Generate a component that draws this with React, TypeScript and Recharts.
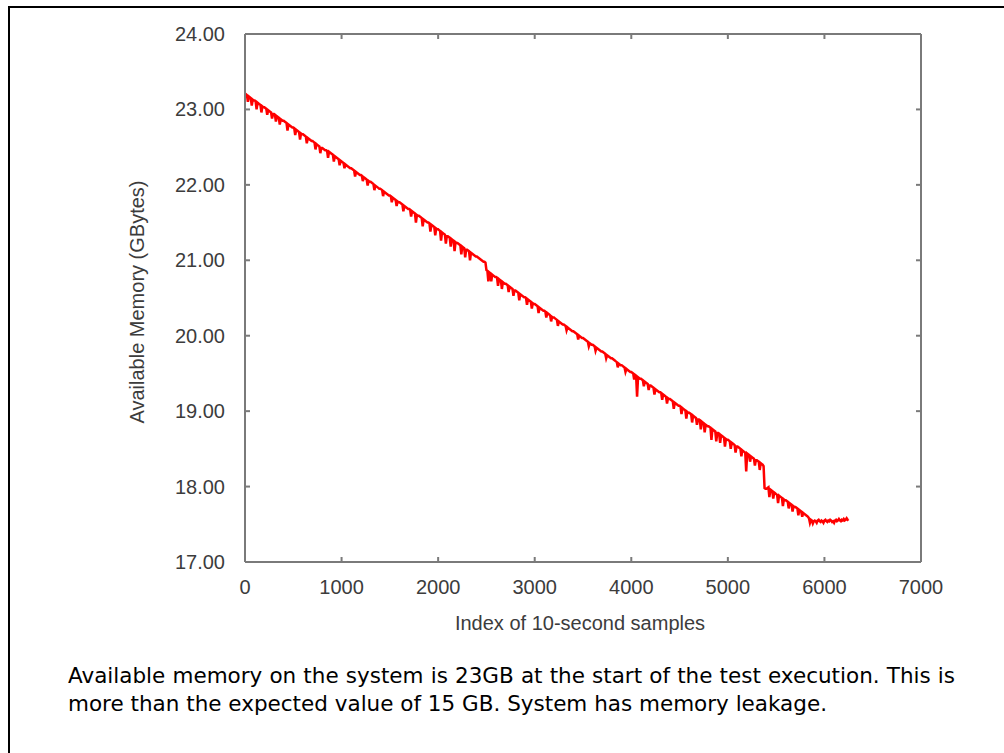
import { LineChart, Line, XAxis, YAxis } from "recharts";

// available memory (GB), one reading per 10 samples
// each row below covers 100 samples
const SAMPLE_STEP = 10;
const memoryGB = [
  23.21, 23.2, 23.19, 23.1, 23.17, 23.16, 23.15, 23.05, 23.13, 23.12, // 0
  23.12, 23.11, 23.0, 23.09, 23.08, 23.07, 23.06, 22.96, 23.04, 23.03,
  23.03, 23.02, 23.01, 22.93, 22.99, 22.98, 22.97, 22.96, 22.88, 22.94,
  22.94, 22.93, 22.84, 22.91, 22.9, 22.89, 22.8, 22.87, 22.86, 22.85,
  22.85, 22.84, 22.83, 22.82, 22.72, 22.8, 22.79, 22.78, 22.77, 22.76,
  22.76, 22.75, 22.66, 22.73, 22.72, 22.71, 22.7, 22.6, 22.68, 22.67, // 500
  22.67, 22.66, 22.65, 22.64, 22.55, 22.62, 22.61, 22.6, 22.59, 22.58,
  22.58, 22.57, 22.56, 22.47, 22.54, 22.53, 22.52, 22.51, 22.42, 22.49,
  22.49, 22.48, 22.47, 22.46, 22.46, 22.45, 22.36, 22.44, 22.43, 22.42,
  22.41, 22.4, 22.31, 22.38, 22.37, 22.36, 22.35, 22.34, 22.26, 22.32,
  22.31, 22.3, 22.29, 22.22, 22.27, 22.26, 22.25, 22.24, 22.23, 22.22, // 1000
  22.22, 22.21, 22.2, 22.19, 22.11, 22.17, 22.16, 22.15, 22.14, 22.13,
  22.13, 22.12, 22.05, 22.1, 22.09, 22.08, 22.07, 21.99, 22.05, 22.04,
  22.04, 22.03, 22.02, 22.01, 21.93, 21.99, 21.98, 21.97, 21.96, 21.95,
  21.95, 21.94, 21.93, 21.85, 21.91, 21.9, 21.89, 21.88, 21.87, 21.86,
  21.86, 21.85, 21.77, 21.83, 21.82, 21.81, 21.8, 21.72, 21.78, 21.77, // 1500
  21.77, 21.76, 21.75, 21.74, 21.65, 21.72, 21.71, 21.7, 21.69, 21.68,
  21.68, 21.67, 21.58, 21.65, 21.64, 21.63, 21.62, 21.5, 21.6, 21.59,
  21.59, 21.58, 21.57, 21.56, 21.45, 21.54, 21.53, 21.52, 21.51, 21.5,
  21.5, 21.49, 21.38, 21.47, 21.46, 21.45, 21.44, 21.33, 21.42, 21.41,
  21.41, 21.4, 21.39, 21.26, 21.37, 21.36, 21.35, 21.34, 21.22, 21.32, // 2000
  21.32, 21.31, 21.3, 21.18, 21.28, 21.27, 21.26, 21.12, 21.24, 21.23,
  21.23, 21.22, 21.21, 21.2, 21.08, 21.18, 21.17, 21.16, 21.04, 21.14,
  21.14, 21.13, 21.12, 21.0, 21.1, 21.09, 21.08, 21.07, 21.06, 21.05,
  21.05, 21.04, 21.03, 21.02, 21.01, 21.0, 20.99, 20.98, 20.98, 20.97,
  20.87, 20.86, 20.72, 20.84, 20.83, 20.72, 20.81, 20.8, 20.79, 20.78, // 2500
  20.78, 20.77, 20.66, 20.75, 20.74, 20.73, 20.62, 20.71, 20.7, 20.69,
  20.69, 20.68, 20.67, 20.58, 20.65, 20.64, 20.63, 20.62, 20.53, 20.6,
  20.6, 20.59, 20.58, 20.57, 20.47, 20.55, 20.54, 20.53, 20.52, 20.51,
  20.51, 20.5, 20.41, 20.48, 20.47, 20.46, 20.45, 20.36, 20.43, 20.42,
  20.42, 20.41, 20.4, 20.39, 20.3, 20.37, 20.36, 20.35, 20.34, 20.33, // 3000
  20.33, 20.32, 20.24, 20.3, 20.29, 20.28, 20.27, 20.19, 20.25, 20.24,
  20.24, 20.23, 20.22, 20.21, 20.13, 20.19, 20.18, 20.17, 20.16, 20.15,
  20.15, 20.14, 20.13, 20.07, 20.11, 20.1, 20.09, 20.08, 20.07, 20.06,
  20.06, 20.05, 20.04, 20.03, 20.02, 19.95, 20.0, 19.99, 19.98, 19.97,
  19.97, 19.96, 19.95, 19.94, 19.93, 19.92, 19.86, 19.9, 19.89, 19.88, // 3500
  19.88, 19.87, 19.86, 19.8, 19.84, 19.83, 19.82, 19.81, 19.8, 19.79,
  19.79, 19.78, 19.77, 19.76, 19.7, 19.74, 19.73, 19.72, 19.71, 19.7,
  19.7, 19.69, 19.68, 19.67, 19.66, 19.65, 19.58, 19.63, 19.62, 19.61,
  19.61, 19.6, 19.59, 19.58, 19.52, 19.56, 19.55, 19.54, 19.53, 19.52,
  19.52, 19.51, 19.5, 19.42, 19.48, 19.47, 19.19, 19.45, 19.44, 19.43, // 4000
  19.43, 19.42, 19.41, 19.33, 19.39, 19.38, 19.37, 19.36, 19.28, 19.34,
  19.34, 19.33, 19.32, 19.31, 19.22, 19.29, 19.28, 19.27, 19.26, 19.25,
  19.25, 19.24, 19.15, 19.22, 19.21, 19.2, 19.19, 19.1, 19.17, 19.16,
  19.16, 19.15, 19.14, 19.13, 19.03, 19.11, 19.1, 19.09, 19.08, 19.07,
  19.07, 19.06, 18.96, 19.04, 19.03, 19.02, 19.01, 18.9, 18.99, 18.98, // 4500
  18.98, 18.97, 18.96, 18.85, 18.94, 18.93, 18.92, 18.91, 18.82, 18.89,
  18.89, 18.88, 18.76, 18.86, 18.85, 18.84, 18.72, 18.82, 18.81, 18.8,
  18.8, 18.79, 18.78, 18.62, 18.76, 18.75, 18.74, 18.73, 18.6, 18.71,
  18.71, 18.7, 18.58, 18.68, 18.67, 18.66, 18.65, 18.53, 18.63, 18.62,
  18.62, 18.61, 18.6, 18.5, 18.58, 18.57, 18.56, 18.55, 18.45, 18.53, // 5000
  18.53, 18.52, 18.51, 18.5, 18.4, 18.48, 18.47, 18.46, 18.45, 18.2,
  18.44, 18.43, 18.42, 18.33, 18.4, 18.39, 18.38, 18.37, 18.28, 18.35,
  18.35, 18.34, 18.33, 18.22, 18.31, 18.3, 18.29, 18.27, 17.98, 17.97,
  17.97, 17.98, 17.99, 17.86, 17.96, 17.95, 17.94, 17.84, 17.92, 17.91,
  17.9, 17.89, 17.78, 17.88, 17.87, 17.86, 17.85, 17.74, 17.83, 17.82, // 5500
  17.82, 17.81, 17.8, 17.71, 17.78, 17.77, 17.76, 17.67, 17.74, 17.73,
  17.73, 17.72, 17.71, 17.62, 17.69, 17.68, 17.67, 17.6, 17.65, 17.64,
  17.63, 17.62, 17.61, 17.6, 17.58, 17.52, 17.56, 17.55, 17.51, 17.54,
  17.55, 17.54, 17.52, 17.55, 17.56, 17.54, 17.53, 17.55, 17.54, 17.52,
  17.55, 17.56, 17.54, 17.53, 17.55, 17.54, 17.56, 17.55, 17.53, 17.54, // 6000
  17.52, 17.55, 17.56, 17.54, 17.55, 17.57, 17.55, 17.54, 17.56, 17.55,
  17.57, 17.55, 17.56, 17.58, 17.56, 17.57,
];

const xTicks = [0, 1000, 2000, 3000, 4000, 5000, 6000, 7000];
const yTicks = [17, 18, 19, 20, 21, 22, 23, 24];

const chartData = memoryGB.map((v, i) => ({ index: i * SAMPLE_STEP, memory: v }));

const AXIS_GRAY = "#7a7a7a";
const TEXT_GRAY = "#3c3c3c";
const FONT = "'Liberation Sans', Arial, sans-serif";
const TICK_LEN = 5;

// ticks point into the plot (gnuplot style), labels drawn by hand
const LeftTick = ({ x, y, payload }: any) => (
  <g>
    <line x1={x} x2={x + TICK_LEN} y1={y} y2={y} stroke={AXIS_GRAY} strokeWidth={2} />
    <text x={x - 20} y={y + 7} textAnchor="end" fill={TEXT_GRAY} fontSize={20} fontFamily={FONT}>
      {payload.value.toFixed(2)}
    </text>
  </g>
);

const RightTick = ({ x, y }: any) => (
  <line x1={x - TICK_LEN} x2={x} y1={y} y2={y} stroke={AXIS_GRAY} strokeWidth={2} />
);

const BottomTick = ({ x, y, payload }: any) => (
  <g>
    <line x1={x} x2={x} y1={y} y2={y - TICK_LEN} stroke={AXIS_GRAY} strokeWidth={2} />
    <text x={x} y={y + 32} textAnchor="middle" fill={TEXT_GRAY} fontSize={20} fontFamily={FONT}>
      {payload.value}
    </text>
  </g>
);

const TopTick = ({ x, y }: any) => (
  <line x1={x} x2={x} y1={y} y2={y + TICK_LEN} stroke={AXIS_GRAY} strokeWidth={2} />
);

export default function App() {
  return (
    <div
      style={{
        position: "absolute",
        left: 0,
        top: 0,
        width: 1004,
        height: 753,
        background: "#fff",
        overflow: "hidden",
      }}
    >
      <div
        style={{
          position: "absolute",
          left: 8,
          top: 6,
          width: 1010,
          height: 760,
          borderTop: "2px solid #000",
          borderLeft: "2px solid #000",
        }}
      />
      <div style={{ position: "absolute", left: 0, top: 0 }}>
        <LineChart
          width={1004}
          height={753}
          data={chartData}
          margin={{ top: 33, right: 82, left: 125, bottom: 111 }}
        >
          <XAxis
            dataKey="index"
            type="number"
            domain={[0, 7000]}
            ticks={xTicks}
            interval={0}
            height={80}
            tickSize={0}
            tickMargin={0}
            tickLine={false}
            tick={<BottomTick />}
            axisLine={{ stroke: AXIS_GRAY, strokeWidth: 2 }}
            label={{
              content: ({ viewBox }: any) => (
                <text
                  x={viewBox.x + viewBox.width / 2 - 3}
                  y={viewBox.y + 68}
                  textAnchor="middle"
                  fill={TEXT_GRAY}
                  fontSize={20}
                  fontFamily={FONT}
                >
                  Index of 10-second samples
                </text>
              ),
            }}
          />
          <XAxis
            xAxisId="top"
            orientation="top"
            dataKey="index"
            type="number"
            domain={[0, 7000]}
            ticks={xTicks}
            interval={0}
            height={1}
            tickSize={0}
            tickMargin={0}
            tickLine={false}
            tick={<TopTick />}
            axisLine={{ stroke: AXIS_GRAY, strokeWidth: 2 }}
          />
          <YAxis
            type="number"
            domain={[17, 24]}
            ticks={yTicks}
            interval={0}
            width={120}
            tickSize={0}
            tickMargin={0}
            tickLine={false}
            tick={<LeftTick />}
            axisLine={{ stroke: AXIS_GRAY, strokeWidth: 2 }}
            label={{
              content: ({ viewBox }: any) => {
                const cx = viewBox.x + 12;
                const cy = viewBox.y + viewBox.height / 2 + 4;
                return (
                  <text
                    x={cx}
                    y={cy}
                    transform={`rotate(-90 ${cx} ${cy})`}
                    textAnchor="middle"
                    dominantBaseline="central"
                    fill={TEXT_GRAY}
                    fontSize={20}
                    fontFamily={FONT}
                  >
                    Available Memory (GBytes)
                  </text>
                );
              },
            }}
          />
          <YAxis
            yAxisId="right"
            orientation="right"
            type="number"
            domain={[17, 24]}
            ticks={yTicks}
            interval={0}
            width={1}
            tickSize={0}
            tickMargin={0}
            tickLine={false}
            tick={<RightTick />}
            axisLine={{ stroke: AXIS_GRAY, strokeWidth: 2 }}
          />
          {/* invisible copy so the mirrored top / right axes get a domain */}
          <Line
            xAxisId="top"
            yAxisId="right"
            type="linear"
            dataKey="memory"
            stroke="none"
            dot={false}
            activeDot={false}
            isAnimationActive={false}
          />
          <Line
            type="linear"
            dataKey="memory"
            stroke="#ff0000"
            strokeWidth={2.5}
            dot={false}
            isAnimationActive={false}
          />
        </LineChart>
      </div>
      <div
        style={{
          position: "absolute",
          left: 68,
          top: 662,
          fontFamily: "'DejaVu Sans', Verdana, sans-serif",
          fontSize: 21.5,
          lineHeight: "28px",
          color: "#000",
          whiteSpace: "nowrap",
        }}
      >
        <div style={{ width: 887, textAlign: "justify", textAlignLast: "justify" }}>
          Available memory on the system is 23GB at the start of the test execution. This is
        </div>
        <div>more than the expected value of 15 GB. System has memory leakage.</div>
      </div>
    </div>
  );
}
